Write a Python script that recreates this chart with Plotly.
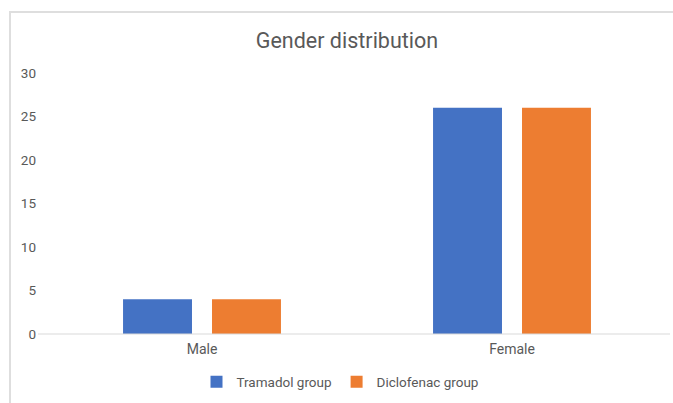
import plotly.graph_objects as go

# Patient counts by gender for each analgesic group
categories = ["Male", "Female"]
tramadol = [4, 26]
diclofenac = [4, 26]
y_ticks = [0, 5, 10, 15, 20, 25, 30]

W, H = 673, 403
L, R, T, B = 47, 6, 73, 69
pw = W - L - R
ph = H - T - B


def px_x(x):
    return (x - L) / pw


def px_y(y):
    return (H - B - y) / ph


fig = go.Figure()
fig.add_trace(go.Bar(name="Tramadol group", x=categories, y=tramadol,
                     marker=dict(color="#4472C4", line=dict(width=0))))
fig.add_trace(go.Bar(name="Diclofenac group", x=categories, y=diclofenac,
                     marker=dict(color="#ED7D31", line=dict(width=0))))

# Frame around the chart (left and top edges) and the zero baseline
fig.add_shape(type="line", xref="paper", yref="paper",
              x0=px_x(10), x1=px_x(10), y0=px_y(12), y1=px_y(403),
              line=dict(color="#dedede", width=2))
fig.add_shape(type="line", xref="paper", yref="paper",
              x0=px_x(9), x1=px_x(673), y0=px_y(12), y1=px_y(12),
              line=dict(color="#dedede", width=2))
fig.add_shape(type="line", xref="paper", yref="paper",
              x0=px_x(38), x1=px_x(670), y0=0, y1=0,
              line=dict(color="#d9d9d9", width=1))

fig.update_layout(
    width=W, height=H,
    margin=dict(l=L, r=R, t=T, b=B),
    paper_bgcolor="white", plot_bgcolor="white",
    font=dict(family="Roboto", color="#595959", size=13),
    title=dict(text="Gender distribution", x=347 / W, xref="container",
               xanchor="center", y=1 - 40 / H, yanchor="middle",
               font=dict(family="Roboto", size=21.5, color="#595959")),
    barmode="group", bargap=0.426, bargroupgap=0.225,
    showlegend=True,
    legend=dict(orientation="h", x=px_x(340), xanchor="center",
                y=px_y(382), yanchor="middle",
                font=dict(size=13.5, color="#595959"),
                itemwidth=30, traceorder="normal"),
    xaxis=dict(showgrid=False, showline=False, zeroline=False,
               ticks="", tickfont=dict(size=14, color="#595959"),
               ticklabelstandoff=5),
    yaxis=dict(range=[0, 30], tickvals=y_ticks, showgrid=False,
               showline=False, zeroline=False, ticks="",
               tickfont=dict(size=13.5, color="#595959"),
               ticklabelstandoff=10),
)

fig.write_html("out.html")
